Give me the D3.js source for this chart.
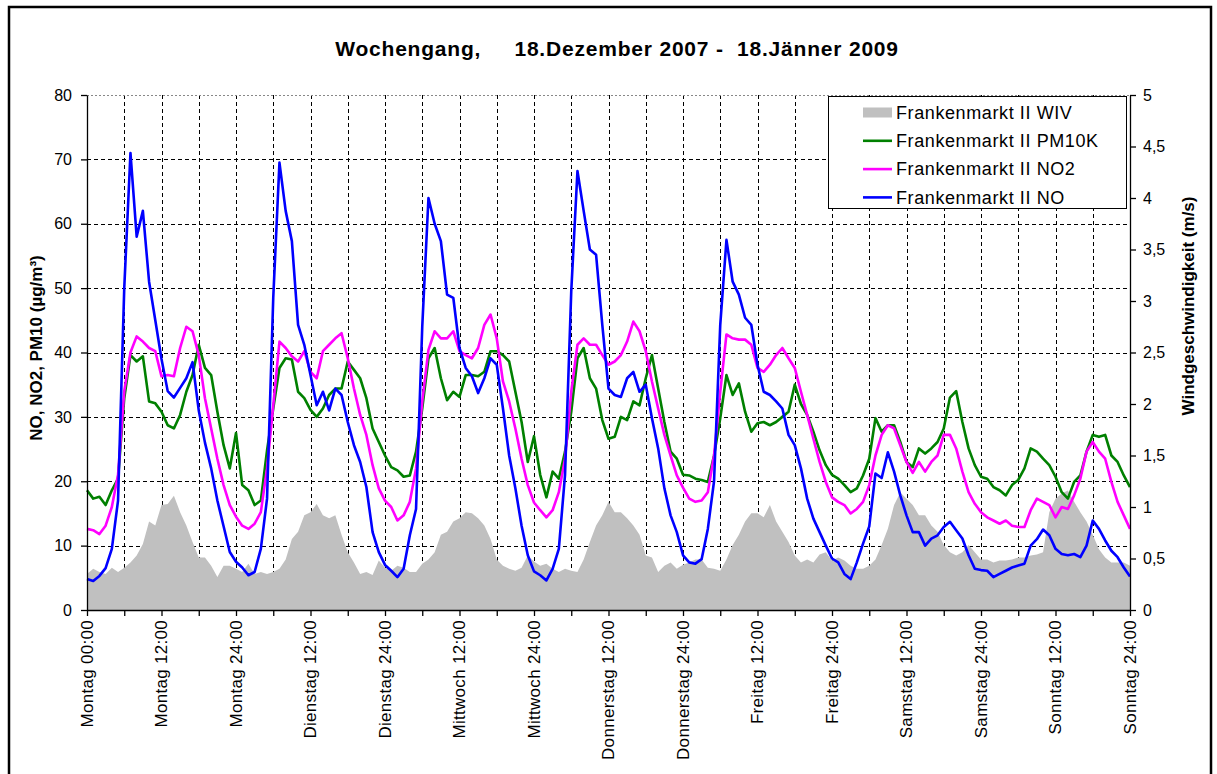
<!DOCTYPE html>
<html>
<head>
<meta charset="utf-8">
<script src="https://cdn.jsdelivr.net/npm/d3@7"></script>
<style>
  body { margin: 0; background: #fff; }
  svg { display: block; font-family: Arial, "Liberation Sans", sans-serif; }
</style>
</head>
<body>
<svg></svg>
<script>
var width = 1217;
var height = 774;

// hourly values, Montag 00:00 .. Sonntag 24:00 (169 points)
var noValues = [
  4.8,4.5,5.3,6.5,9.5,17,50,71,58,62,51,45,39,34,33,34.5,36,38.5,31,26,22,17,13,9,
  7.5,6.6,5.4,5.9,9.5,17.3,48.5,69.5,62,57.3,44.3,41.2,36.5,31.8,33.9,31,34.4,33.4,29.2,25.6,23,19.1,12.1,9,
  7,6.1,5.1,6.4,11.6,15.7,44,64,60,57.3,49,48.5,40.7,37.6,36.3,33.7,36,39.1,38.1,31.3,24,18.9,13.1,8.5,
  6,5.4,4.6,6.4,9.5,21,49.5,68.2,62,56,55.2,44.3,34.4,33.4,33.1,36,37,33.9,35,29.8,25.1,18.9,14.7,12.1,
  8.5,7.4,7.2,7.9,12.6,20,44.3,57.5,51,49,45.4,44.3,38.1,33.9,33.4,32.4,31.3,27.2,25.6,22,17.3,14.2,12.1,10,
  8,7.4,5.6,4.8,7.4,10.3,13,21.2,20.5,24.5,21.5,17.8,14.7,12.1,12.1,10,11.1,11.6,12.9,13.7,12.4,11.1,8.5,6.4,
  6.2,6.1,5.1,5.6,6.1,6.6,6.9,7.2,10,11,12.5,11.6,9.5,8.7,8.5,8.7,8.2,10,13.9,12.6,10.8,9.2,8.2,6.6,
  5.2
];

var no2Values = [
  12.6,12.4,11.8,13.1,16,21,34,40,42.5,41.7,40.7,40.2,36.3,36.5,36.3,40.7,44,43.3,39.6,32.9,28.2,23.5,19.4,16.3,
  14.5,13.1,12.6,13.4,15.2,22,31.8,41.7,40.7,39.4,38.6,40.2,37,36,40.2,41.2,42.2,43,39.1,34.4,30.3,27.2,22.5,18.9,
  17,16,13.9,14.7,16.8,22,32.4,40.4,43.3,42.2,42.2,43.3,40.2,39.6,39.1,40.7,44.3,45.9,42.2,35.5,32.4,28.2,23.5,19.4,
  16.7,15.5,14.4,15.5,18.3,23.5,33.9,41.2,42.2,41.2,41.2,39.6,38.1,38.6,39.6,41.7,44.8,43.3,40.2,35.5,31.3,27.2,24,20.9,
  19,17.3,16.8,17,18.3,24,33.9,42.8,42.2,42,42,41.2,37.6,37,38.1,39.6,40.7,39.1,37.6,33.9,30.3,26.6,23,19.9,
  17.5,16.8,16.3,15,15.7,16.8,19.4,24,27.2,28.7,28.2,25.6,23,21.3,23,21.5,23,24,27.2,27.2,25.1,21.5,18.3,16.5,
  15.2,14.4,13.9,13.4,13.9,13.1,12.9,12.9,15.5,17.3,16.8,16.3,14.4,16,15.7,17.8,20.4,24.6,26.1,24.6,23.5,19.9,16.8,14.7,
  12.6
];

var pm10Values = [
  18.6,17.3,17.6,16.3,18.6,20.4,32.9,39.6,38.6,39.4,32.4,32.1,30.8,28.7,28.2,30.3,33.9,36.5,41.2,37.6,36.5,30.8,25.6,22,
  27.5,19.4,18.6,16.3,17,24.8,31.3,37.6,39.1,38.9,33.9,32.9,31.1,30,31.3,33.4,34.4,34.4,38.6,37.3,36,32.9,28.2,26.1,
  24,22.2,21.7,20.7,20.9,24.6,31.3,39.1,40.7,36,32.6,33.9,33.1,36.5,36.5,36.3,37,40.2,40.2,39.6,38.6,33.9,29.2,23,
  27,21,17.5,21.5,20.4,24.6,30.8,39.1,40.7,36,34.4,29.5,26.6,26.9,30,29.5,32.4,31.8,36,39.6,34.4,29.2,24.6,23.5,
  21,20.9,20.4,20.2,19.9,24,29.8,36.5,33.4,35.2,30.8,27.7,29,29.2,28.7,29.2,30,30.8,35,32,30.3,27.7,24.8,22.5,
  21,20.4,19.4,18.3,18.9,20.9,23.5,29.8,27.7,28.7,28.7,26.1,23,22.2,25.1,24.3,25.1,26.1,28.2,33,34,29.2,25.1,22.5,
  20.7,20.4,19.1,18.6,17.8,19.4,20.2,22,25.1,24.6,23.5,22.5,20.7,18.3,17.3,19.9,20.9,24.6,27.2,26.9,27.2,24,23,20.9,
  19.1
];

// wind speed in m/s (right axis)
var wivValues = [
  0.35,0.40,0.37,0.35,0.41,0.37,0.41,0.46,0.53,0.64,0.86,0.82,1.02,1.03,1.11,0.95,0.82,0.66,0.51,0.51,0.43,0.32,0.43,0.43,
  0.40,0.37,0.45,0.35,0.37,0.35,0.37,0.40,0.49,0.69,0.76,0.92,0.95,1.03,0.92,0.89,0.92,0.73,0.56,0.46,0.35,0.37,0.34,0.48,
  0.41,0.38,0.43,0.41,0.37,0.37,0.45,0.49,0.56,0.73,0.76,0.86,0.89,0.95,0.94,0.89,0.82,0.69,0.49,0.43,0.40,0.38,0.41,0.53,
  0.47,0.43,0.45,0.40,0.37,0.40,0.38,0.37,0.49,0.66,0.82,0.92,1.05,0.95,0.95,0.89,0.82,0.73,0.53,0.51,0.37,0.43,0.46,0.40,
  0.44,0.46,0.49,0.49,0.41,0.40,0.38,0.49,0.63,0.73,0.86,0.94,0.94,0.90,1.02,0.86,0.76,0.66,0.53,0.46,0.49,0.46,0.54,0.56,
  0.48,0.51,0.48,0.43,0.40,0.40,0.43,0.49,0.63,0.79,1.02,1.14,1.08,1.02,0.92,0.92,0.82,0.76,0.63,0.56,0.53,0.56,0.63,0.56,
  0.49,0.49,0.46,0.48,0.48,0.49,0.51,0.51,0.53,0.54,0.56,0.95,1.08,1.13,1.16,1.05,0.95,0.86,0.73,0.59,0.51,0.46,0.46,0.46,
  0.43
];

var xTickLabels = [
  "Montag 00:00", "Montag 12:00", "Montag 24:00",
  "Dienstag 12:00", "Dienstag 24:00",
  "Mittwoch 12:00", "Mittwoch 24:00",
  "Donnerstag 12:00", "Donnerstag 24:00",
  "Freitag 12:00", "Freitag 24:00",
  "Samstag 12:00", "Samstag 24:00",
  "Sonntag 12:00", "Sonntag 24:00"
];

var leftTicks = [0, 10, 20, 30, 40, 50, 60, 70, 80];
var rightTicks = [0, 0.5, 1, 1.5, 2, 2.5, 3, 3.5, 4, 4.5, 5];

var seriesNames = ["Frankenmarkt II WIV", "Frankenmarkt II PM10K", "Frankenmarkt II NO2", "Frankenmarkt II NO"];
var seriesColors = ["#c0c0c0", "#008000", "#ff00ff", "#0000ff"];

var plotLeft = 87, plotRight = 1130, plotTop = 95, plotBottom = 610;

var svg = d3.select("svg")
    .attr("width", width)
    .attr("height", height);

svg.append("rect")
    .attr("width", width)
    .attr("height", height)
    .attr("fill", "#fff");

// chart frame
svg.append("rect")
    .attr("x", 9)
    .attr("y", 7)
    .attr("width", 1202)
    .attr("height", 800)
    .attr("fill", "none")
    .attr("stroke", "#000")
    .attr("stroke-width", 2.5);

var hours = noValues.map((d, i) => i);

var x = d3.scaleLinear().domain([0, 168]).range([plotLeft, plotRight]);
var y = d3.scaleLinear().domain([0, 80]).range([plotBottom, plotTop]);
var y2 = d3.scaleLinear().domain([0, 5]).range([plotBottom, plotTop]);

// gridlines
var grid = svg.append("g")
    .attr("stroke", "#000")
    .attr("stroke-width", 1)
    .attr("stroke-dasharray", "4,3");

grid.selectAll(".hgrid")
  .data(leftTicks.filter(d => d > 0 && d < 80))
  .enter()
  .append("line")
    .attr("x1", plotLeft)
    .attr("x2", plotRight)
    .attr("y1", d => Math.round(y(d)) + 0.5)
    .attr("y2", d => Math.round(y(d)) + 0.5);

grid.selectAll(".vgrid")
  .data(d3.range(6, 168, 6))
  .enter()
  .append("line")
    .attr("x1", d => Math.round(x(d)) + 0.5)
    .attr("x2", d => Math.round(x(d)) + 0.5)
    .attr("y1", plotTop)
    .attr("y2", plotBottom);

svg.append("line")
    .attr("x1", plotLeft)
    .attr("x2", plotRight)
    .attr("y1", plotTop + 0.5)
    .attr("y2", plotTop + 0.5)
    .attr("stroke", "#888")
    .attr("stroke-dasharray", "2,2");

// wind area on right axis
var area = d3.area()
    .x((d, i) => x(hours[i]))
    .y0(y2(0))
    .y1(d => y2(d));

svg.append("path")
    .datum(wivValues)
    .attr("fill", seriesColors[0])
    .attr("d", area);

var line = d3.line()
    .x((d, i) => x(hours[i]));

[[pm10Values, seriesColors[1]], [no2Values, seriesColors[2]], [noValues, seriesColors[3]]]
  .forEach(function(s) {
    svg.append("path")
        .datum(s[0])
        .attr("fill", "none")
        .attr("stroke", s[1])
        .attr("stroke-width", 2.6)
        .attr("stroke-linejoin", "round")
        .attr("d", line.y(d => y(d)));
  });

// axes
var leftAxis = svg.append("g")
    .attr("transform", `translate(${plotLeft}, 0)`)
    .call(d3.axisLeft(y).tickValues(leftTicks).tickSize(6).tickSizeOuter(0).tickPadding(9));

var rightAxis = svg.append("g")
    .attr("transform", `translate(${plotRight}, 0)`)
    .call(d3.axisRight(y2).tickValues(rightTicks).tickSize(6).tickSizeOuter(0).tickPadding(7)
      .tickFormat(d => String(d).replace(".", ",")));

var bottomAxis = svg.append("g")
    .attr("transform", `translate(0, ${plotBottom})`)
    .call(d3.axisBottom(x).tickValues(d3.range(0, 169, 6)).tickSize(6).tickSizeOuter(0).tickFormat(""));

[leftAxis, rightAxis, bottomAxis].forEach(function(a) {
  a.selectAll("path, line").attr("stroke", "#000").attr("stroke-width", 1.3);
  a.selectAll("text")
      .attr("fill", "#000")
      .style("font-size", "16px")
      .style("font-family", "Arial, 'Liberation Sans', sans-serif");
});

svg.append("g")
  .selectAll("text")
  .data(xTickLabels)
  .enter()
  .append("text")
    .attr("transform", (d, i) => `translate(${x(i * 12)}, 620) rotate(-90)`)
    .attr("dy", "0.35em")
    .style("text-anchor", "end")
    .style("font-size", "17px")
    .style("letter-spacing", "0.3px")
    .text(d => d);

// axis titles
svg.append("text")
    .attr("transform", "translate(36, 348) rotate(-90)")
    .attr("dy", "0.35em")
    .style("text-anchor", "middle")
    .style("font-weight", "bold")
    .style("font-size", "17px")
    .text("NO, NO2, PM10 (µg/m³)");

svg.append("text")
    .attr("transform", "translate(1188, 306) rotate(-90)")
    .attr("dy", "0.35em")
    .style("text-anchor", "middle")
    .style("font-weight", "bold")
    .style("font-size", "17px")
    .text("Windgeschwindigkeit (m/s)");

// title
svg.append("text")
    .attr("x", 617)
    .attr("y", 56)
    .style("text-anchor", "middle")
    .style("font-weight", "bold")
    .style("font-size", "21px")
    .style("letter-spacing", "0.8px")
    .style("white-space", "pre")
    .text("Wochengang,     18.Dezember 2007 -  18.Jänner 2009");

// legend
var legend = svg.append("g");

legend.append("rect")
    .attr("x", 828.5)
    .attr("y", 96.5)
    .attr("width", 298)
    .attr("height", 112)
    .attr("fill", "#fff")
    .attr("stroke", "#000")
    .attr("stroke-width", 1);

var rows = legend.selectAll(".row")
  .data(seriesNames)
  .enter()
  .append("g")
    .attr("transform", (d, i) => `translate(863, ${112.5 + i * 28.3})`);

rows.each(function(d, i) {
  var g = d3.select(this);
  if (i === 0) {
    g.append("rect")
        .attr("x", 0)
        .attr("y", -5)
        .attr("width", 29)
        .attr("height", 10)
        .attr("fill", seriesColors[0]);
  } else {
    g.append("line")
        .attr("x1", 0)
        .attr("x2", 29)
        .attr("stroke", seriesColors[i])
        .attr("stroke-width", 2.6);
  }
  g.append("text")
      .attr("x", 33)
      .attr("dy", "0.35em")
      .style("font-size", "18px")
      .style("letter-spacing", "0.6px")
      .text(d);
});
</script>
</body>
</html>
